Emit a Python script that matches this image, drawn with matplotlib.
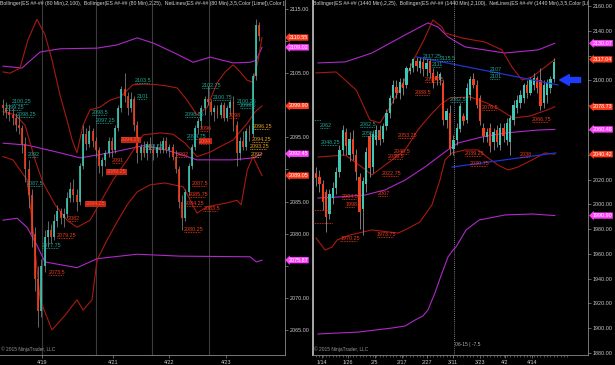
import numpy as np
import matplotlib
matplotlib.use('Agg')
from matplotlib import pyplot as plt

plt.rcParams['font.family'] = ['Liberation Sans Narrow', 'Liberation Sans', 'DejaVu Sans']

UP = '#3cc8b4'
DOWN = '#f0401e'
WICK = '#8c8c8c'
BAND_RED = '#a81a10'
BAND_PURPLE = '#b028c8'
TEAL_TXT = '#1fa898'
RED_TXT = '#f03a1c'
ORANGE_TXT = '#e8a020'
AXIS_TXT = '#c8c8c8'

# ---------------- left chart: ES 80 min ----------------
l_open = [2100.0, 2099.5, 2099.0, 2098.5, 2098.0, 2097.0, 2096.5, 2094.0, 2090.0, 2086.0,
          2080.0, 2073.0, 2068.0, 2075.0, 2079.5, 2080.5, 2079.5, 2082.0, 2083.5, 2082.5,
          2083.0, 2085.5, 2087.0, 2086.0, 2085.0, 2090.5, 2095.5, 2094.0, 2096.0, 2094.5,
          2093.0, 2090.5, 2091.5, 2092.5, 2094.5, 2093.0, 2096.5, 2099.5, 2102.5, 2101.5,
          2099.5, 2101.0, 2097.0, 2092.5, 2093.5, 2092.5, 2094.0, 2093.0, 2092.5, 2093.5,
          2093.0, 2094.5, 2093.0, 2093.5, 2092.0, 2090.0, 2085.0, 2082.5, 2086.5, 2090.5,
          2093.5, 2096.5, 2097.5, 2099.5, 2101.0, 2100.5, 2099.0, 2099.5, 2098.5, 2100.0,
          2098.0, 2099.5, 2100.5, 2097.0, 2092.5, 2094.5, 2093.5, 2096.0, 2095.5, 2104.5,
          2112.5]
l_high = [2101.0, 2100.5, 2100.25, 2099.5, 2098.75, 2098.5, 2097.0, 2095.0, 2091.5, 2087.0,
          2081.0, 2075.0, 2076.0, 2080.5, 2082.0, 2081.5, 2083.0, 2084.5, 2084.0, 2084.0,
          2086.5, 2088.0, 2088.5, 2087.0, 2091.0, 2097.0, 2096.5, 2097.0, 2096.5, 2095.0,
          2093.5, 2092.0, 2093.0, 2095.0, 2095.0, 2097.0, 2100.0, 2103.0, 2105.0, 2102.0,
          2102.0, 2101.5, 2097.5, 2094.0, 2094.5, 2094.5, 2095.0, 2094.0, 2094.0, 2094.5,
          2095.0, 2095.0, 2094.0, 2094.0, 2093.0, 2090.5, 2086.0, 2087.0, 2091.0, 2094.0,
          2097.0, 2098.0, 2100.0, 2101.5, 2103.0, 2101.0, 2100.0, 2100.0, 2100.5, 2100.5,
          2100.0, 2101.0, 2101.5, 2097.5, 2095.0, 2096.0, 2096.5, 2097.0, 2105.0, 2113.5,
          2113.0]
l_low = [2098.5, 2098.0, 2097.5, 2097.0, 2096.0, 2095.5, 2092.5, 2088.0, 2084.0, 2078.0,
         2071.0, 2065.5, 2067.0, 2074.0, 2078.0, 2078.5, 2079.0, 2081.0, 2081.5, 2081.0,
         2082.5, 2085.0, 2085.0, 2083.5, 2084.5, 2090.0, 2093.0, 2093.5, 2093.5, 2092.0,
         2089.5, 2089.0, 2090.5, 2092.0, 2092.0, 2092.5, 2096.0, 2099.0, 2100.5, 2098.5,
         2099.0, 2096.0, 2091.0, 2091.5, 2092.0, 2091.5, 2092.5, 2091.5, 2092.0, 2092.5,
         2092.5, 2092.5, 2092.0, 2091.5, 2089.5, 2084.0, 2080.5, 2082.0, 2086.0, 2090.0,
         2093.0, 2095.5, 2096.5, 2098.5, 2100.0, 2098.5, 2097.5, 2098.0, 2098.0, 2097.5,
         2097.5, 2098.5, 2096.0, 2090.5, 2091.5, 2093.0, 2093.0, 2094.5, 2095.0, 2104.0,
         2110.0]
l_close = [2099.5, 2099.0, 2098.5, 2098.0, 2097.0, 2096.5, 2094.0, 2090.0, 2086.0, 2080.0,
           2073.0, 2068.0, 2075.0, 2079.5, 2080.5, 2079.5, 2082.0, 2083.5, 2082.5, 2083.0,
           2085.5, 2087.0, 2086.0, 2085.0, 2090.5, 2095.5, 2094.0, 2096.0, 2094.5, 2093.0,
           2090.5, 2091.5, 2092.5, 2094.5, 2093.0, 2096.5, 2099.5, 2102.5, 2101.5, 2099.5,
           2101.0, 2097.0, 2092.5, 2093.5, 2092.5, 2094.0, 2093.0, 2092.5, 2093.5, 2093.0,
           2094.5, 2093.0, 2093.5, 2092.0, 2090.0, 2085.0, 2082.5, 2086.5, 2090.5, 2093.5,
           2096.5, 2097.5, 2099.5, 2101.0, 2100.5, 2099.0, 2099.5, 2098.5, 2100.0, 2098.0,
           2099.5, 2100.5, 2097.0, 2092.5, 2094.5, 2093.5, 2096.0, 2095.5, 2104.5, 2112.5,
           2110.75]

# Bollinger (2,25) - red
l_bb25_up_x = [0, 2.2, 5.3, 7.8, 10.6, 13.1, 15.3, 17.8, 20, 21.6, 23.1, 25, 27.2, 30.3, 33.4,
               36.6, 40.6, 44.4, 48.1, 51.3, 54.4, 57.5, 60.6, 63.8, 66.9, 69.4, 71.9, 74.1,
               76.3, 78.1, 79.7, 80.9]
l_bb25_up = [2105.2, 2105.0, 2105.8, 2110.2, 2113.4, 2111.0, 2107.1, 2101.6, 2097.7, 2094.6,
             2092.6, 2096.9, 2099.3, 2099.7, 2100.8, 2101.3, 2103.2, 2103.3, 2103.2, 2103.0,
             2102.7, 2100.8, 2098.5, 2099.7, 2103.5, 2105.2, 2106.3, 2105.2, 2103.9, 2103.6,
             2107.0, 2110.55]
l_bb25_mid_x = [0, 3.8, 6.9, 10, 12.5, 16.3, 20, 23.1, 27.2, 30.3, 34.4, 38.8, 43.8, 49.1,
                53.1, 56.9, 60.6, 64.7, 68.4, 71.9, 76.3, 78.8, 80.9]
l_bb25_mid = [2099.0, 2098.5, 2096.9, 2091.5, 2087.9, 2084.5, 2082.1, 2081.0, 2082.1, 2084.8,
              2088.4, 2091.5, 2095.4, 2095.7, 2095.5, 2094.1, 2092.0, 2092.7, 2093.7, 2094.6,
              2097.2, 2099.0, 2099.9]
l_bb25_lo_x = [0, 3.1, 7.5, 9.4, 11.6, 15.3, 19.4, 23.1, 25, 27.8, 29.4, 32.5, 35.6, 38.8,
               41.9, 45.9, 50.6, 56.3, 60.6, 63.8, 70, 73.1, 74.4, 76.3, 78.1, 80.9]
l_bb25_lo = [2092.0, 2091.5, 2088.4, 2080.6, 2069.7, 2065.0, 2067.3, 2069.7, 2068.1, 2069.7,
             2075.9, 2079.0, 2081.8, 2084.5, 2086.5, 2087.6, 2087.9, 2087.3, 2083.2, 2084.2,
             2084.8, 2085.2, 2084.5, 2089.9, 2092.0, 2089.05]
# Bollinger (2,100) - purple
l_bb100_up_x = [0, 5.9, 11.6, 17.8, 29.4, 35.6, 41.9, 46.9, 53.8, 59.4, 64.7, 71.9, 77.2, 79.1, 80.9]
l_bb100_up = [2106.1, 2105.8, 2108.3, 2108.8, 2108.9, 2109.4, 2110.5, 2109.7, 2108.1, 2106.7,
              2107.5, 2106.6, 2106.7, 2107.0, 2109.02]
l_bb100_mid_x = [0, 7.5, 17.8, 24.1, 33.4, 43.8, 51.3, 60.6, 71.9, 78.1, 80.9]
l_bb100_mid = [2094.1, 2093.8, 2092.6, 2091.8, 2092.6, 2093.7, 2093.0, 2091.5, 2091.5, 2091.8, 2092.45]
l_bb100_lo_x = [0, 4.4, 7.5, 10.6, 13.1, 23.1, 29.4, 41.9, 55.3, 77.2, 79.1, 80.9]
l_bb100_lo = [2082.1, 2082.4, 2081.0, 2078.2, 2075.6, 2074.7, 2076.1, 2076.8, 2076.5, 2076.4,
              2075.6, 2075.87]

# NetLines labels: (bar, text, colour)
l_labels = [
    (2.8, '2100.25', TEAL_TXT), (0.6, '2099.25', TEAL_TXT), (4.4, '2098.25', TEAL_TXT),
    (7.8, '2092', TEAL_TXT), (7.5, '2087.5', TEAL_TXT), (12.2, '2077.75', TEAL_TXT),
    (14.4, '2073.5', RED_TXT), (16.9, '2079.25', RED_TXT), (20.3, '2082', RED_TXT),
    (27.8, '2098.5', TEAL_TXT), (29.0, '2097.25', TEAL_TXT), (34.0, '2091', RED_TXT),
    (41.3, '2103.5', TEAL_TXT), (41.9, '2101', TEAL_TXT), (44.0, '2093.25', TEAL_TXT),
    (54.4, '2092', RED_TXT), (56.9, '2098.25', TEAL_TXT), (57.5, '2094.75', TEAL_TXT),
    (61.6, '2096', RED_TXT), (62.2, '2102.75', TEAL_TXT), (65.6, '2100.75', TEAL_TXT),
    (73.1, '2100.25', TEAL_TXT), (74.0, '2099.5', TEAL_TXT),
    (70.6, '2098', RED_TXT), (78.1, '2096.25', ORANGE_TXT), (77.8, '2094.25', ORANGE_TXT),
    (77.2, '2093.25', ORANGE_TXT), (77.5, '2092', ORANGE_TXT), (59.1, '2087.5', RED_TXT),
    (58.1, '2085.75', RED_TXT), (56.8, '2084.25', RED_TXT), (62.6, '2083.5', RED_TXT),
    (56.6, '2080.25', RED_TXT),
]
l_boxed = [(25.9, '2084.25'), (32.5, '2089.25'), (36.9, '2094.25'), (61.3, '2094')]

l_tags = [('2110.55', 'red'), ('2109.02', 'mag'), ('2099.90', 'red'),
          ('2092.45', 'mag'), ('2089.05', 'red'), ('2075.87', 'mag')]
l_yticks = [2115, 2110, 2105, 2100, 2095, 2090, 2085, 2080, 2075, 2070, 2065]
l_hidden = [2110, 2100, 2090, 2075]
l_dates = ['4/19', '4/21', '4/22', '4/23']
l_date_pos = [12.2, 34.4, 51.9, 69.7]
l_sessions = [12.2, 29.1, 46.6, 64.4]

# ---------------- right chart: ES daily ----------------
r_open = [2025, 2022, 2016, 2010, 1992, 2005, 2013, 2026, 2044, 2058,
          2040, 2053, 2040, 2022, 1996, 2016, 2055, 2030, 2052, 2060,
          2053, 2063, 2074, 2086, 2095, 2090, 2098, 2096, 2108, 2110,
          2116, 2110, 2115, 2109, 2116, 2106, 2104, 2100, 2098, 2068,
          2074, 2045, 2052, 2061, 2071, 2068, 2088, 2101, 2096, 2086,
          2062, 2054, 2062, 2050, 2060, 2048, 2062, 2052, 2050, 2068,
          2078, 2082, 2086, 2096, 2090, 2096, 2102, 2100, 2082, 2088,
          2094, 2101]
r_high = [2030, 2028, 2020, 2012, 2012, 2018, 2030, 2048, 2064, 2062,
          2058, 2060, 2045, 2025, 2022, 2046, 2058, 2060, 2064, 2064,
          2066, 2077, 2088, 2100, 2100, 2102, 2102, 2112, 2114, 2118,
          2119, 2119, 2118, 2117, 2118, 2110, 2108, 2107, 2100, 2078,
          2080, 2056, 2066, 2082, 2074, 2098, 2104, 2106, 2100, 2088,
          2066, 2062, 2066, 2062, 2064, 2066, 2066, 2070, 2072, 2084,
          2088, 2092, 2098, 2100, 2103, 2106, 2104, 2110, 2100, 2101,
          2104, 2118]
r_low = [2015, 2010, 1995, 1978, 1988, 2000, 2008, 2022, 2040, 2040,
         2035, 2036, 2020, 1980, 1975, 2010, 2022, 2025, 2048, 2048,
         2050, 2060, 2070, 2082, 2086, 2085, 2088, 2094, 2105, 2107,
         2108, 2106, 2104, 2104, 2102, 2094, 2096, 2096, 2064, 2062,
         2040, 2040, 2048, 2058, 2064, 2066, 2084, 2094, 2078, 2064,
         2050, 2050, 2042, 2044, 2046, 2044, 2050, 2048, 2040, 2064,
         2074, 2078, 2082, 2086, 2088, 2092, 2090, 2076, 2078, 2082,
         2090, 2099]
r_close = [2021, 2016, 2002, 1990, 2008, 2013, 2026, 2044, 2060, 2047,
           2053, 2041, 2026, 1994, 2019, 2042, 2029, 2057, 2060, 2052,
           2063, 2074, 2086, 2096, 2090, 2099, 2094, 2110, 2110, 2117,
           2112, 2116, 2109, 2114, 2106, 2098, 2100, 2105, 2068, 2075,
           2045, 2052, 2062, 2079, 2067, 2094, 2101, 2096, 2080, 2067,
           2055, 2058, 2047, 2058, 2050, 2062, 2055, 2066, 2070, 2080,
           2084, 2088, 2096, 2090, 2100, 2102, 2094, 2079, 2096, 2098,
           2101, 2115]

r_bb25_up_x = [0, 6, 12, 16.1, 19.1, 22.1, 26, 29.1, 32.2, 34.9, 37.6, 38.5, 43.6, 50.4,
               55.5, 58.5, 61.5, 64.5, 68.4, 71.3]
r_bb25_up = [2106.1, 2106.9, 2092.3, 2068.1, 2065.7, 2078.6, 2098.0, 2116.6, 2132.7, 2148.9,
             2143.2, 2138.4, 2134.3, 2131.1, 2124.7, 2110.9, 2100.4, 2102.8, 2110.9, 2117.04]
r_bb25_mid_x = [0.6, 8.7, 13.7, 16.7, 22.7, 26.6, 30.4, 33.4, 37, 40, 46, 51, 55, 58.8,
                63.9, 69, 71.3]
r_bb25_mid = [2038.2, 2039.8, 2030.1, 2023.7, 2035.8, 2043.9, 2060.0, 2069.7, 2080.2, 2085.9,
              2086.7, 2081.8, 2076.2, 2069.7, 2071.3, 2076.2, 2078.73]
r_bb25_lo_x = [0, 2.7, 4.8, 6.3, 10.1, 16.7, 24.5, 26.6, 31, 34.6, 37, 38.5, 40.6, 44.5,
               48.4, 51, 54.3, 57.3, 60.3, 64.5, 68.4, 71.3]
r_bb25_lo = [1972.8, 1963.1, 1965.5, 1971.2, 1975.2, 1979.3, 1976.8, 1979.3, 1985.7, 1999.5,
             2019.6, 2035.8, 2041.5, 2043.9, 2043.9, 2038.2, 2031.8, 2027.7, 2030.1, 2035.8,
             2041.5, 2040.42]
r_bb100_up_x = [0.6, 8.7, 16.7, 26.6, 33.4, 36.4, 39.4, 44.5, 56.4, 66.3, 71.3]
r_bb100_up = [2114.2, 2115.0, 2122.2, 2136.8, 2146.5, 2143.2, 2135.2, 2127.1, 2122.2, 2124.7, 2130.07]
r_bb100_mid_x = [0.6, 6.6, 14.6, 20.6, 26.6, 32.5, 38.5, 42.4, 49.6, 56.4, 66.3, 71.3]
r_bb100_mid = [2005.1, 2005.9, 2007.5, 2011.6, 2019.6, 2030.1, 2042.3, 2049.5, 2054.4, 2057.6,
               2060.0, 2060.48]
r_bb100_lo_x = [0.6, 12.5, 22.7, 26.6, 29.6, 31.9, 33.4, 35.5, 37.6, 39.4, 40.9, 41.8, 44.8,
                48.7, 56.4, 64.5, 71.3]
r_bb100_lo = [1895.3, 1896.8, 1900.1, 1901.7, 1906.6, 1909.8, 1914.6, 1928.4, 1944.5, 1957.4,
              1963.1, 1965.5, 1979.3, 1987.3, 1991.4, 1992.2, 1990.9]

r_trend_hi_x = [30.1, 72.2]
r_trend_hi = [2119.0, 2096.4]
r_trend_lo_x = [40.6, 71.6]
r_trend_lo = [2030.1, 2041.5]

r_labels = [
    (31.9, '2117.25', TEAL_TXT), (37.0, '2115.5', TEAL_TXT), (34.6, '2111', TEAL_TXT),
    (51.9, '2107', TEAL_TXT), (51.9, '2101', TEAL_TXT), (40.0, '2082.5', TEAL_TXT),
    (1.2, '2062', TEAL_TXT), (13.1, '2062.5', TEAL_TXT), (13.6, '2055.25', TEAL_TXT),
    (1.5, '2048.25', TEAL_TXT),
    (32.5, '2098.75', RED_TXT), (29.6, '2088.5', RED_TXT), (24.5, '2053.25', RED_TXT),
    (23.3, '2040.5', RED_TXT), (21.4, '2036.5', RED_TXT), (19.7, '2022.75', RED_TXT),
    (18.5, '2007', RED_TXT), (7.8, '2004.5', RED_TXT), (8.7, '1998', RED_TXT),
    (7.2, '1970.25', RED_TXT), (18.2, '1973.75', RED_TXT), (49.6, '2076.5', RED_TXT),
    (64.5, '2066.75', RED_TXT), (44.5, '2039.25', RED_TXT), (46.0, '2030.75', RED_TXT),
    (60.9, '2038', RED_TXT),
]
r_stubs = [(2068.1, TEAL_TXT, 2.5), (1995.4, RED_TXT, 5.5), (1984.9, RED_TXT, 6.0)]

r_tags = [('2130.07', 'mag'), ('2117.04', 'red'), ('2078.73', 'red'),
          ('2060.48', 'mag'), ('2040.42', 'red'), ('1990.90', 'mag')]
r_yticks = list(range(1880, 2161, 20))
r_hidden = [2120, 2080, 2060, 2040]
r_dates = ['1/14', '1/26', '2/5', '2/17', '2/27', '3/11', '3/23', '4/2', '4/14']
r_date_pos = [1.8, 9.6, 17.6, 25.7, 33.1, 40.9, 49.0, 56.4, 64.5]

HDR_L = ('Bollinger(ES ##-## (80 Min),2,100),  Bollinger(ES ##-## (80 Min),2,25),  '
         'NetLines(ES ##-## (80 Min),3,5,Color [Lime]),Color [Da')
HDR_R = ('Bollinger(ES ##-## (1440 Min),2,25),  Bollinger(ES ##-## (1440 Min),2,100),  '
         'NetLines(ES ##-## (1440 Min),3,5,Color [Lin')

TAG_COL = {'red': '#ff3a1a', 'mag': '#ff40ff'}


def plot_candles(ax, o, h, l, c, width, alpha=1.0):
    o, h, l, c = (np.asarray(a, dtype=float) for a in (o, h, l, c))
    x = np.arange(len(o))
    ax.vlines(x, l, h, color=WICK, lw=0.6, zorder=3, alpha=alpha)
    body = np.maximum(np.abs(c - o), 0.3)
    cols = np.where(c >= o, UP, DOWN)
    ax.bar(x, body, bottom=np.minimum(o, c), width=width, color=cols,
           zorder=4, alpha=alpha, linewidth=0)


def plot_bands(ax, bands):
    for xs, ys, col in bands:
        ax.plot(xs, ys, color=col, lw=0.8, zorder=2)


def netline(ax, x, txt, col, char_w, boxed=False):
    v = float(txt)
    w = len(txt) * char_w
    ax.plot([x, x + w], [v, v], color=col, lw=0.6, ls=(0, (1, 1)), zorder=5)
    kw = {}
    if boxed:
        kw['bbox'] = dict(boxstyle='square,pad=0.1', fc='#c02414', ec='none')
        col = '#ff5a3a'
    ax.text(x, v, txt, color=col, fontsize=3.9, ha='left', va='bottom', zorder=6, **kw)


def style_axes(ax, ylim, xlim, yticks, hidden, dates, date_pos, header):
    ax.set_facecolor('black')
    ax.set_xlim(*xlim)
    ax.set_ylim(*ylim)
    ax.yaxis.tick_right()
    ax.set_yticks(yticks)
    ax.set_yticklabels(['' if t in hidden else '%.2f' % t for t in yticks])
    ax.set_xticks(date_pos)
    ax.set_xticklabels(dates)
    ax.tick_params(colors='#8a8a8a', labelcolor=AXIS_TXT, labelsize=3.9,
                   length=2, width=0.5, pad=1.5)
    for s in ['top', 'left']:
        ax.spines[s].set_visible(False)
    for s in ['right', 'bottom']:
        ax.spines[s].set_color('#8a8a8a')
        ax.spines[s].set_linewidth(0.6)
    ax.text(0.0, 0.997, header, transform=ax.transAxes, va='top', ha='left',
            fontsize=3.7, color='#d4d4d4', clip_on=True, zorder=10)
    ax.text(0.004, 0.008, '\u00a9 2015 NinjaTrader, LLC', transform=ax.transAxes,
            fontsize=3.5, color='#9a9a9a', va='bottom', zorder=10)


def price_tags(ax, tags, xpos):
    for txt, kind in tags:
        ax.text(xpos, float(txt), txt, transform=ax.get_yaxis_transform(),
                fontsize=3.9, color='white', va='center', ha='left', clip_on=False,
                zorder=12, bbox=dict(boxstyle='larrow,pad=0.12', fc=TAG_COL[kind], ec='none'))


W, H = 615, 365
fig = plt.figure(figsize=(W / 100, H / 100), dpi=100, facecolor='black')

# ---- left panel
axL = fig.add_axes([0, 10 / H, 285 / W, 355 / H])
style_axes(axL, (2061.10, 2116.40), (-0.94, 88.1), l_yticks, l_hidden, l_dates, l_date_pos, HDR_L)
for xs in l_sessions:
    axL.axvline(xs, color='#3c3c3c', lw=0.8, zorder=1)
plot_bands(axL, [
    (l_bb100_up_x, l_bb100_up, BAND_PURPLE), (l_bb100_mid_x, l_bb100_mid, BAND_PURPLE),
    (l_bb100_lo_x, l_bb100_lo, BAND_PURPLE), (l_bb25_up_x, l_bb25_up, BAND_RED),
    (l_bb25_mid_x, l_bb25_mid, BAND_RED), (l_bb25_lo_x, l_bb25_lo, BAND_RED)])
plot_candles(axL, l_open, l_high, l_low, l_close, width=0.6, alpha=0.85)
for x, txt, col in l_labels:
    netline(axL, x, txt, col, 0.72)
for x, txt in l_boxed:
    netline(axL, x, txt, RED_TXT, 0.72, boxed=True)
price_tags(axL, l_tags, 1.012)

# ---- right panel
axR = fig.add_axes([313 / W, 10 / H, 275 / W, 355 / H])
style_axes(axR, (1878.3, 2165.0), (-0.9, 81.2), r_yticks, r_hidden, r_dates, r_date_pos, HDR_R)
axR.spines['left'].set_visible(True)
axR.spines['left'].set_color('#a8a8a8')
axR.spines['left'].set_linewidth(1.4)
axR.set_xticks(np.arange(0, 76), minor=True)
axR.tick_params(axis='x', which='minor', length=1.5, width=0.4, colors='#8a8a8a')
plot_bands(axR, [
    (r_bb100_up_x, r_bb100_up, BAND_PURPLE), (r_bb100_mid_x, r_bb100_mid, BAND_PURPLE),
    (r_bb100_lo_x, r_bb100_lo, BAND_PURPLE), (r_bb25_up_x, r_bb25_up, BAND_RED),
    (r_bb25_mid_x, r_bb25_mid, BAND_RED), (r_bb25_lo_x, r_bb25_lo, BAND_RED)])
axR.plot(r_trend_hi_x, r_trend_hi, color='#2034d0', lw=0.9, zorder=5)
axR.plot(r_trend_lo_x, r_trend_lo, color='#2034d0', lw=0.9, zorder=5)
plot_candles(axR, r_open, r_high, r_low, r_close, width=0.7)
for x, txt, col in r_labels:
    netline(axR, x, txt, col, 0.7)
for v, col, w in r_stubs:
    axR.plot([-0.9, -0.9 + w], [v, v], color=col, lw=0.6, ls=(0, (1, 1)), zorder=5)
axR.axvline(41.2, color='#a0a0a0', lw=0.6, ls=(0, (1, 1.5)), zorder=6)
axR.text(41.4, 1887.0, '06-15 | -7.5', fontsize=3.6, color='#b0b0b0', va='center', zorder=10)
axR.annotate('', xy=(71.9, 2100.4), xytext=(79.8, 2100.4),
             arrowprops=dict(arrowstyle='simple,head_length=1.0,head_width=1.1,tail_width=0.5',
                             color='#1e3cff', mutation_scale=7), zorder=12)
price_tags(axR, r_tags, 1.016)

fig.savefig('out.png', dpi=100, facecolor='black')
